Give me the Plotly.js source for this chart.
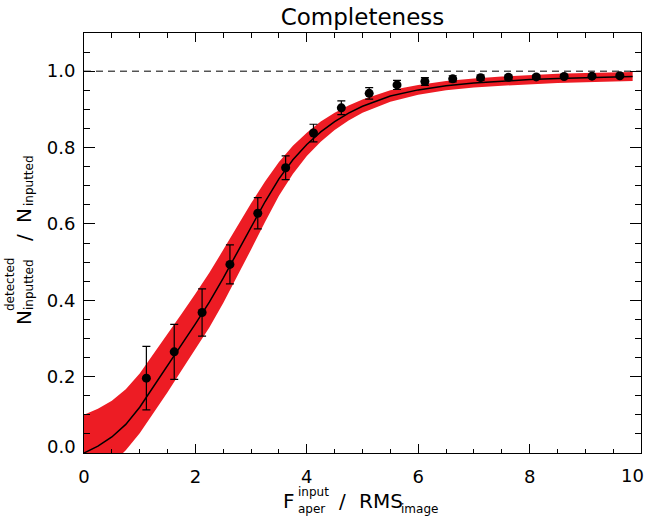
<!DOCTYPE html>
<html>
<head>
<meta charset="utf-8">
<script src="https://cdn.plot.ly/plotly-3.0.1.min.js"></script>
<style>html,body{margin:0;padding:0;background:#fff;}#chart{width:651px;height:517px;}</style>
</head>
<body>
<div id="chart"></div>
<script>
// measured data points
const xPts = [1.12, 1.62, 2.12, 2.62, 3.12, 3.62, 4.12, 4.62, 5.12, 5.62, 6.12, 6.62, 7.12, 7.62, 8.12, 8.62, 9.12, 9.62];
const yPts = [0.196, 0.265, 0.368, 0.494, 0.628, 0.747, 0.838, 0.904, 0.942, 0.964, 0.973, 0.980, 0.983, 0.984, 0.985, 0.986, 0.987, 0.988];
const errPts = [0.083, 0.072, 0.062, 0.051, 0.041, 0.031, 0.023, 0.018, 0.015, 0.012, 0.010, 0.008, 0.007, 0.006, 0.005, 0.005, 0.004, 0.004];

// fitted curve and its uncertainty band
const xFit = [0, 0.25, 0.5, 0.75, 1.0, 1.25, 1.5, 1.75, 2.0, 2.25, 2.5, 2.75, 3.0, 3.25, 3.5, 3.75, 4.0, 4.25, 4.5, 4.75, 5.0, 5.5, 6.0, 6.5, 7.0, 7.5, 8.0, 8.5, 9.0, 9.5, 9.85];
const yFit = [0, 0.018, 0.042, 0.075, 0.120, 0.174, 0.229, 0.284, 0.338, 0.395, 0.458, 0.525, 0.592, 0.658, 0.718, 0.768, 0.808, 0.841, 0.868, 0.890, 0.908, 0.935, 0.951, 0.962, 0.969, 0.974, 0.978, 0.981, 0.983, 0.985, 0.986];
const yUpper = [0.100, 0.116, 0.137, 0.167, 0.208, 0.259, 0.311, 0.364, 0.417, 0.472, 0.532, 0.594, 0.654, 0.711, 0.762, 0.805, 0.839, 0.868, 0.891, 0.910, 0.926, 0.950, 0.964, 0.974, 0.981, 0.986, 0.990, 0.993, 0.995, 0.997, 0.998];
const yLower = [-0.080, -0.057, -0.028, 0.007, 0.052, 0.104, 0.159, 0.216, 0.271, 0.329, 0.393, 0.462, 0.533, 0.605, 0.674, 0.731, 0.778, 0.815, 0.846, 0.871, 0.891, 0.920, 0.938, 0.950, 0.957, 0.962, 0.966, 0.969, 0.971, 0.973, 0.974];

const refLevel = 1.0;
const xTickVals = [0, 2, 4, 6, 8, 10];
const xTickText = ['0', '2', '4', '6', '8', ''];
const yTickVals = [0.0, 0.2, 0.4, 0.6, 0.8, 1.0];
const yTickText = ['', '0.2', '0.4', '0.6', '0.8', '1.0'];

const FONT = 'DejaVu Sans, Liberation Sans, sans-serif';
const RED = '#ed1c24';

const traces = [
  {x: xFit, y: yLower, type: 'scatter', mode: 'lines', line: {width: 0, color: RED}, hoverinfo: 'skip', showlegend: false},
  {x: xFit, y: yUpper, type: 'scatter', mode: 'lines', fill: 'tonexty', fillcolor: RED, line: {width: 0, color: RED}, hoverinfo: 'skip', showlegend: false},
  {x: xFit, y: yFit, type: 'scatter', mode: 'lines', line: {width: 1.5, color: '#000'}, showlegend: false},
  {x: xPts, y: yPts, type: 'scatter', mode: 'markers', marker: {size: 9, color: '#000'},
   error_y: {type: 'data', array: errPts, visible: true, color: '#000', thickness: 1.2, width: 4}, showlegend: false}
];

// axis-title pieces placed in pixel coordinates of the figure
const L = 84, R = 641, T = 33, B = 453;
function px(x) { return (x - L) / (R - L); }
function py(y) { return (B - y) / (B - T); }
function ann(text, cx, cy, size, angle, xanchor) {
  return {text: text, x: px(cx), y: py(cy), xref: 'paper', yref: 'paper', showarrow: false,
    xanchor: xanchor || 'center', yanchor: 'middle', textangle: angle || 0, font: {family: FONT, size: size, color: '#000'}};
}
const annotations = [
  ann('N', 24, 318, 20, -90),
  ann('detected', 10, 285, 12, -90),
  ann('inputted', 29, 285, 12, -90),
  ann('/', 24, 238, 20, -90),
  ann('N', 24, 216, 20, -90),
  ann('inputted', 29, 181, 12, -90),
  ann('F', 289, 501, 20),
  ann('input', 313, 492, 12),
  ann('aper', 311, 509, 12),
  ann('/', 342, 501, 20),
  ann('RMS', 381, 501, 20),
  ann('image', 419, 509, 12),
  // end labels that the original nudges inwards
  ann('10', 632, 475, 18),
  ann('0.0', 78, 446, 18, 0, 'right')
];

const layout = {
  width: 651, height: 517,
  margin: {l: L, r: 651 - R, t: T, b: 517 - B},
  paper_bgcolor: '#fff', plot_bgcolor: '#fff',
  font: {family: FONT, color: '#000'},
  title: {text: 'Completeness', font: {family: FONT, size: 23, color: '#000'}, x: 0.5, xref: 'paper', xanchor: 'center', y: 1 - 17 / 517, yref: 'container', yanchor: 'middle'},
  xaxis: {range: [0, 10], tickvals: xTickVals, ticktext: xTickText, ticks: 'inside', ticklen: 9, tickwidth: 1, tickcolor: '#000',
    showline: true, linecolor: '#000', linewidth: 1, mirror: 'allticks', showgrid: false, zeroline: false,
    tickfont: {family: FONT, size: 18, color: '#000'}, ticklabelstandoff: 7,
    minor: {dtick: 0.5, ticks: 'inside', ticklen: 4.5, tickcolor: '#000', tickwidth: 1, showgrid: false}},
  yaxis: {range: [0, 1.1], tickvals: yTickVals, ticktext: yTickText, ticks: 'inside', ticklen: 11, tickwidth: 1, tickcolor: '#000',
    showline: true, linecolor: '#000', linewidth: 1, mirror: 'allticks', showgrid: false, zeroline: false,
    tickfont: {family: FONT, size: 18, color: '#000'}, ticklabelstandoff: 4,
    minor: {dtick: 0.05, ticks: 'inside', ticklen: 6, tickcolor: '#000', tickwidth: 1, showgrid: false}},
  shapes: [{type: 'line', xref: 'paper', x0: 0, x1: 1, yref: 'y', y0: refLevel, y1: refLevel, line: {color: '#000', width: 1, dash: '7px,5px'}}],
  annotations: annotations,
  showlegend: false
};

Plotly.newPlot('chart', traces, layout, {staticPlot: true, displayModeBar: false});
</script>
</body>
</html>
